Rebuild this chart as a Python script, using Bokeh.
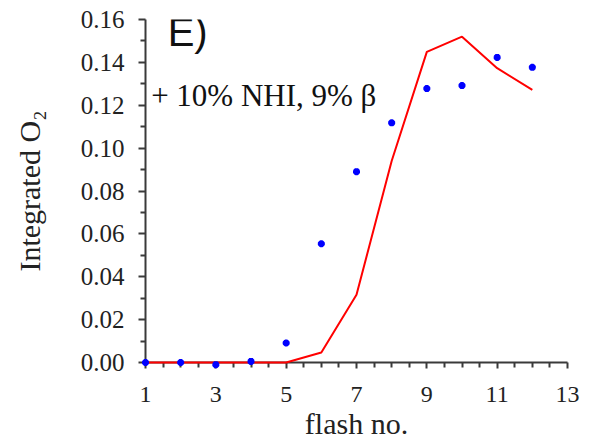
from bokeh.plotting import figure
from bokeh.models import Range1d, FixedTicker, Label, ColumnDataSource, NumeralTickFormatter
from bokeh.embed import file_html
from bokeh.resources import INLINE

# data
flash = [1, 2, 3, 4, 5, 6, 7, 8, 9, 10, 11, 12]
measured = [0.000, 0.000, -0.001, 0.0005, 0.0091, 0.0554, 0.0890, 0.1118, 0.1278, 0.1292, 0.1423, 0.1377]
model = [0.000, 0.000, 0.000, 0.000, 0.000, 0.0047, 0.0316, 0.0940, 0.1449, 0.1520, 0.1373, 0.1272]

x_major = [1, 3, 5, 7, 9, 11, 13]
x_minor = [1.5, 2, 2.5, 3.5, 4, 4.5, 5.5, 6, 6.5, 7.5, 8, 8.5, 9.5, 10, 10.5, 11.5, 12, 12.5]
y_major = [0.00, 0.02, 0.04, 0.06, 0.08, 0.10, 0.12, 0.14, 0.16]
y_minor = [0.01, 0.03, 0.05, 0.07, 0.09, 0.11, 0.13, 0.15]

src = ColumnDataSource(dict(x=flash, meas=measured, mod=model))

p = figure(width=593, height=444, x_range=Range1d(1, 13), y_range=Range1d(0, 0.16),
           output_backend="svg", toolbar_location=None,
           min_border_left=145, min_border_right=26, min_border_top=19, min_border_bottom=82)
p.outline_line_color = None
p.xgrid.grid_line_color = None
p.ygrid.grid_line_color = None
p.background_fill_color = "white"
p.border_fill_color = "white"

ln = p.line("x", "mod", source=src, line_color="#ff0000", line_width=2)
ln.level = "overlay"
sc = p.scatter("x", "meas", source=src, marker="asterisk", size=7, line_color="#0000ff", line_width=2.5)
sc.level = "overlay"

axcol = "#3a3a3a"
serif = "'Liberation Serif', 'Times New Roman', serif"

xa = p.xaxis[0]
xa.ticker = FixedTicker(ticks=x_major, minor_ticks=x_minor)
xa.axis_line_color = axcol
xa.axis_line_width = 2
xa.major_tick_line_color = axcol
xa.major_tick_line_width = 2
xa.minor_tick_line_color = axcol
xa.minor_tick_line_width = 2
xa.major_tick_in = 0
xa.major_tick_out = 6
xa.minor_tick_in = 0
xa.minor_tick_out = 5
xa.major_label_text_font = serif
xa.major_label_text_font_size = "24px"
xa.major_label_text_color = "#222222"
xa.major_label_standoff = 18
xa.axis_label = "flash no."
xa.axis_label_text_font = serif
xa.axis_label_text_font_size = "30px"
xa.axis_label_text_font_style = "normal"
xa.axis_label_text_color = "#222222"
xa.axis_label_standoff = 2

ya = p.yaxis[0]
ya.ticker = FixedTicker(ticks=y_major, minor_ticks=y_minor)
ya.formatter = NumeralTickFormatter(format="0.00")
ya.axis_line_color = axcol
ya.axis_line_width = 2
ya.major_tick_line_color = axcol
ya.major_tick_line_width = 2
ya.minor_tick_line_color = axcol
ya.minor_tick_line_width = 2
ya.major_tick_in = 0
ya.major_tick_out = 7
ya.minor_tick_in = 0
ya.minor_tick_out = 5
ya.major_label_text_font = serif
ya.major_label_text_font_size = "25px"
ya.major_label_text_color = "#222222"
ya.major_label_standoff = 14
ya.axis_label = "Integrated O\u2082"
ya.axis_label_text_font = serif
ya.axis_label_text_font_size = "30px"
ya.axis_label_text_font_style = "normal"
ya.axis_label_text_color = "#222222"
ya.axis_label_standoff = 32

p.add_layout(Label(x=1.63, y=0.1540, text="E)", text_font="Liberation Sans",
                   text_font_size="40px", text_color="#111111", text_baseline="alphabetic"))
p.add_layout(Label(x=1.16, y=0.1245, text="+ 10% NHI, 9% \u03b2", text_font=serif,
                   text_font_size="31px", text_color="#111111", text_baseline="alphabetic"))

open("out.html", "w").write(file_html(p, INLINE))
